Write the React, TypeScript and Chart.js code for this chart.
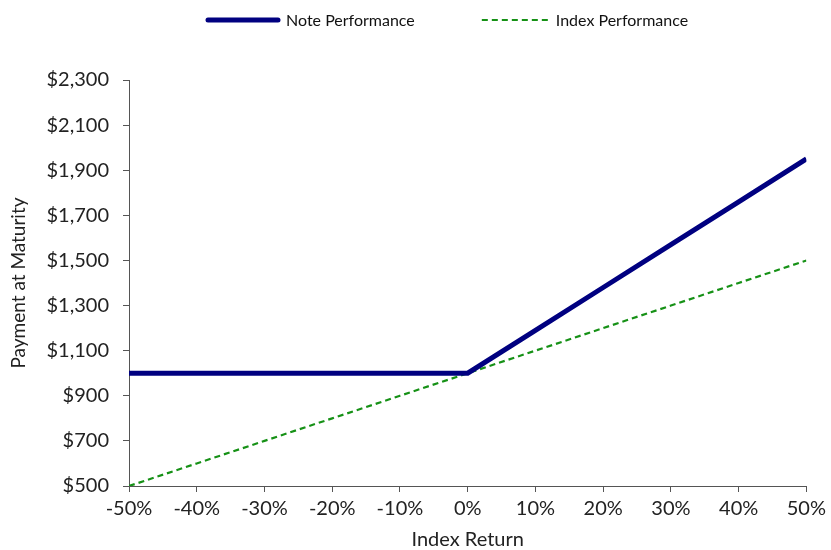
import React, { useEffect, useRef } from "react";
import { Chart, registerables } from "chart.js";

Chart.register(...registerables);

const indexReturns = [-50, -40, -30, -20, -10, 0, 10, 20, 30, 40, 50];
const notePerformance = [1000, 1000, 1000, 1000, 1000, 1000, 1190, 1380, 1570, 1760, 1950];
const indexPerformance = [500, 600, 700, 800, 900, 1000, 1100, 1200, 1300, 1400, 1500];
const seriesLabels = ["Note Performance", "Index Performance"];
const xTitle = "Index Return";
const yTitle = "Payment at Maturity";

const TICK_FONT = "Lato";

const legendPlugin = {
  id: "customLegend",
  afterDraw(chart: any) {
    const ctx = chart.ctx;
    ctx.save();
    ctx.font = "16px Lato";
    ctx.textBaseline = "middle";
    ctx.fillStyle = "#111";
    const y = 20;
    let x = 208;
    chart.data.datasets.forEach((ds: any, i: number) => {
      const sw = i === 0 ? 70 : 66;
      ctx.beginPath();
      ctx.strokeStyle = ds.borderColor;
      ctx.lineWidth = ds.borderWidth;
      ctx.lineCap = i === 0 ? "round" : "butt";
      ctx.setLineDash(ds.borderDash || []);
      ctx.moveTo(x, y);
      ctx.lineTo(x + sw, y);
      ctx.stroke();
      ctx.setLineDash([]);
      x += sw + 8;
      ctx.fillText(ds.label, x, y + 1);
      x += ctx.measureText(ds.label).width + 67;
    });
    ctx.restore();
  },
};

export default function App() {
  const ref = useRef<HTMLCanvasElement>(null);
  useEffect(() => {
    document.body.style.margin = "0";
    const chart = new Chart(ref.current!, {
      type: "line",
      data: {
        datasets: [
          {
            label: seriesLabels[0],
            data: indexReturns.map((x, i) => ({ x, y: notePerformance[i] })),
            borderColor: "#000080",
            borderWidth: 5,
            pointRadius: 0,
            fill: false,
          },
          {
            label: seriesLabels[1],
            data: indexReturns.map((x, i) => ({ x, y: indexPerformance[i] })),
            borderColor: "#169116",
            borderWidth: 2.2,
            borderDash: [6, 4],
            pointRadius: 0,
            fill: false,
          },
        ],
      },
      options: {
        animation: false,
        responsive: false,
        layout: { padding: { top: 80, right: 24, left: 0, bottom: 0 } },
        plugins: { legend: { display: false }, tooltip: { enabled: false } },
        scales: {
          x: {
            type: "linear",
            min: -50,
            max: 50,
            afterFit: (s: any) => { s.height = 64; },
            ticks: {
              stepSize: 10,
              color: "#222",
              font: { family: TICK_FONT, size: 20 },
              padding: 5,
              callback: (v: any) => `${v}%`,
            },
            grid: { drawOnChartArea: false, drawTicks: true, tickLength: 6, color: "#555" },
            border: { color: "#555", width: 1 },
            title: {
              display: true,
              text: xTitle,
              color: "#222",
              font: { family: TICK_FONT, size: 20, lineHeight: 1 },
              padding: { top: 0, bottom: 0 },
            },
          },
          y: {
            type: "linear",
            min: 500,
            max: 2300,
            afterFit: (s: any) => { s.width = 129; },
            ticks: {
              stepSize: 200,
              color: "#222",
              font: { family: TICK_FONT, size: 20 },
              padding: 14,
              callback: (v: any) => "$" + Number(v).toLocaleString("en-US"),
            },
            grid: { drawOnChartArea: false, drawTicks: true, tickLength: 6, color: "#555" },
            border: { color: "#555", width: 1 },
            title: {
              display: true,
              text: yTitle,
              color: "#222",
              font: { family: TICK_FONT, size: 19, lineHeight: 1.2 },
              padding: { top: 7, bottom: 4 },
            },
          },
        },
      },
      plugins: [legendPlugin],
    });
    return () => chart.destroy();
  }, []);
  return (
    <div style={{ position: "absolute", left: 0, top: 0, width: 831, height: 550 }}>
      <canvas ref={ref} width={831} height={550} />
    </div>
  );
}
